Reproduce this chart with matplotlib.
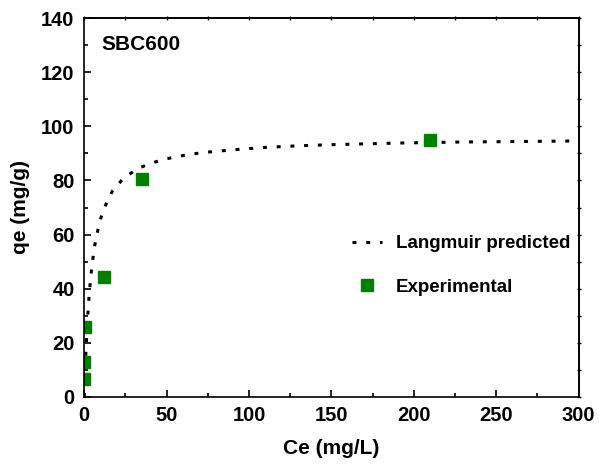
import matplotlib
matplotlib.use("Agg")
import matplotlib.pyplot as plt
from matplotlib.ticker import MultipleLocator, NullFormatter

plt.rcParams["font.family"] = ["Liberation Sans", "DejaVu Sans"]
plt.rcParams["font.weight"] = "bold"

GREEN = "#008000"
INK = "#000000"

# experimental isotherm points
ce_exp = [0.0, 0.0, 0.7, 11.8, 35.2, 210.0]
qe_exp = [6.5, 12.9, 26.0, 44.2, 80.5, 94.8]

# Langmuir predicted curve
ce_fit = [0, 0.5, 1, 2, 3, 4, 5, 6, 8, 10, 13, 17, 24, 33, 41, 50, 58, 66,
          74, 90, 110, 130, 150, 170, 190, 210, 230, 250, 270, 300]
qe_fit = [0, 9.5, 17, 29, 38, 45, 50, 55, 61, 66, 71, 76, 81, 84.5, 86.5,
          88, 89, 89.8, 90.4, 91.3, 92.2, 92.8, 93.2, 93.5, 93.8, 94.0,
          94.2, 94.3, 94.4, 94.6]

fig = plt.figure(figsize=(5.99, 4.71), dpi=100)
ax = fig.add_axes([84.3 / 599, 1 - 397 / 471, 494.3 / 599, 379 / 471])

ax.plot(ce_fit, qe_fit, color=INK, linewidth=2.2,
        linestyle=(0, (1.3, 3.2)), dash_capstyle="butt",
        label="Langmuir predicted")
ax.plot(ce_exp, qe_exp, linestyle="none", marker="s", markersize=8,
        color=GREEN, markeredgecolor=GREEN, label="Experimental")

ax.set_xlim(0, 300)
ax.set_ylim(0, 140)
ax.xaxis.set_major_locator(MultipleLocator(50))
ax.xaxis.set_minor_locator(MultipleLocator(25))
ax.yaxis.set_major_locator(MultipleLocator(20))
ax.yaxis.set_minor_locator(MultipleLocator(10))

ax.tick_params(which="both", direction="in", colors=INK, labelsize=14.5,
               width=1.2, top=False, right=False)
ax.tick_params(which="major", length=5)
ax.tick_params(which="minor", length=3)
ax.tick_params(axis="x", pad=6.5)
ax.tick_params(axis="y", pad=7)
for s in ax.spines.values():
    s.set_linewidth(1.2)
    s.set_color(INK)

# tiny ticks on the top and right frame, no labels
top = ax.secondary_xaxis("top")
top.xaxis.set_major_locator(MultipleLocator(50))
top.xaxis.set_minor_locator(MultipleLocator(25))
top.xaxis.set_major_formatter(NullFormatter())
right = ax.secondary_yaxis("right")
right.yaxis.set_major_locator(MultipleLocator(20))
right.yaxis.set_minor_locator(MultipleLocator(10))
right.yaxis.set_major_formatter(NullFormatter())
for sec in (top, right):
    sec.tick_params(which="both", direction="inout", length=2.5, width=1)
    for s in sec.spines.values():
        s.set_linewidth(1.2)

ax.set_xlabel("Ce (mg/L)", fontsize=15, fontweight="bold", labelpad=10)
ax.set_ylabel("qe (mg/g)", fontsize=15, fontweight="bold", labelpad=8)

ax.text(0.035, 0.9156, "SBC600", transform=ax.transAxes, fontsize=15,
        fontweight="bold", ha="left", va="baseline")

ax.legend(loc="center left", bbox_to_anchor=(0.5416, 0.347), frameon=False,
          handlelength=1.6, handletextpad=0.75,
          labelspacing=1.4, borderpad=0, borderaxespad=0,
          prop={"weight": "bold", "size": 13.5})

fig.savefig("out.png", dpi=100)
